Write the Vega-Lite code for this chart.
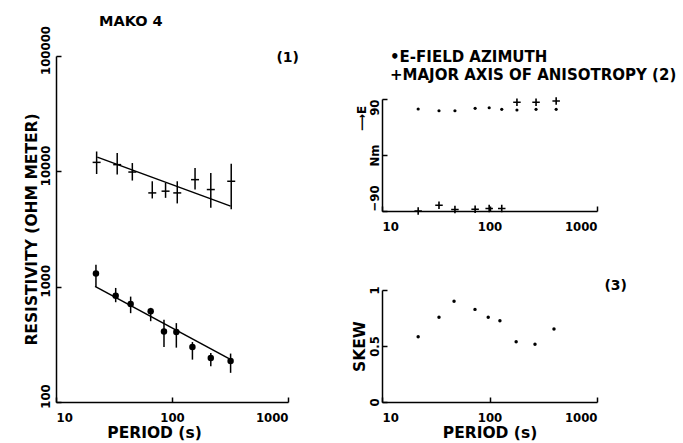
{
  "$schema": "https://vega.github.io/schema/vega-lite/v6.json",
  "background": "white",
  "padding": {"left": 24, "top": 14, "right": 5, "bottom": 5},
  "title": {"text": "MAKO 4", "anchor": "start", "frame": "group", "dx": 43, "offset": -4, "font": "DejaVu Sans, sans-serif", "fontSize": 14.5},
  "config": {
    "view": {"stroke": null},
    "font": "DejaVu Sans Condensed, Liberation Sans Narrow, DejaVu Sans, sans-serif",
    "axis": {
      "domainColor": "black", "domainWidth": 1.5, "tickColor": "black", "tickWidth": 1.5, "tickSize": -5,
      "grid": false, "labelColor": "black", "labelFont": "DejaVu Sans Condensed, Liberation Sans Narrow, DejaVu Sans, sans-serif",
      "labelFontSize": 13, "labelFontWeight": "bold", "titleColor": "black",
      "titleFont": "DejaVu Sans, sans-serif", "titleFontSize": 15.5, "titleFontWeight": "bold"
    },
    "title": {
      "color": "black", "font": "DejaVu Sans, sans-serif", "fontWeight": "bold", "fontSize": 14,
      "subtitleColor": "black", "subtitleFont": "DejaVu Sans, sans-serif", "subtitleFontSize": 15, "subtitleFontWeight": "bold"
    }
  },
  "datasets": {
    "rho": [
      {"period": 22.4, "rho": 11960, "lo": 9480, "hi": 14860, "mode": "cross"},
      {"period": 33.7, "rho": 11430, "lo": 9370, "hi": 14390, "mode": "cross"},
      {"period": 45.5, "rho": 9860, "lo": 8320, "hi": 11800, "mode": "cross"},
      {"period": 67.6, "rho": 6500, "lo": 5820, "hi": 8200, "mode": "cross"},
      {"period": 88, "rho": 6730, "lo": 5890, "hi": 7930, "mode": "cross"},
      {"period": 111, "rho": 6500, "lo": 5270, "hi": 8200, "mode": "cross"},
      {"period": 158, "rho": 8470, "lo": 6950, "hi": 10670, "mode": "cross"},
      {"period": 216, "rho": 6950, "lo": 4830, "hi": 9660, "mode": "cross"},
      {"period": 324, "rho": 8200, "lo": 4680, "hi": 11650, "mode": "cross"},
      {"period": 22.1, "rho": 1303, "lo": 1000, "hi": 1549, "mode": "dot"},
      {"period": 32.7, "rho": 836, "lo": 733, "hi": 975, "mode": "dot"},
      {"period": 44, "rho": 709, "lo": 589, "hi": 820, "mode": "dot"},
      {"period": 65.5, "rho": 613, "lo": 502, "hi": 655, "mode": "dot"},
      {"period": 85.3, "rho": 409, "lo": 300, "hi": 516, "mode": "dot"},
      {"period": 109, "rho": 404, "lo": 296, "hi": 483, "mode": "dot"},
      {"period": 150, "rho": 300, "lo": 233, "hi": 331, "mode": "dot"},
      {"period": 216, "rho": 241, "lo": 204, "hi": 266, "mode": "dot"},
      {"period": 320, "rho": 227, "lo": 179, "hi": 263, "mode": "dot"}
    ],
    "fit": [
      {"period": 22.7, "rho": 13280, "mode": "cross"},
      {"period": 320, "rho": 4990, "mode": "cross"},
      {"period": 21.7, "rho": 1006, "mode": "dot"},
      {"period": 310, "rho": 238, "mode": "dot"}
    ],
    "azi": [
      {"period": 21.7, "angle": 73.9, "kind": "efield"},
      {"period": 33.9, "angle": 71.1, "kind": "efield"},
      {"period": 47.7, "angle": 71.1, "kind": "efield"},
      {"period": 73.5, "angle": 75, "kind": "efield"},
      {"period": 99.3, "angle": 76, "kind": "efield"},
      {"period": 130, "angle": 73.4, "kind": "efield"},
      {"period": 180, "angle": 72.3, "kind": "efield"},
      {"period": 271, "angle": 73.4, "kind": "efield"},
      {"period": 417, "angle": 73.4, "kind": "efield"},
      {"period": 21.7, "angle": -90, "kind": "anis"},
      {"period": 33.9, "angle": -80.8, "kind": "anis"},
      {"period": 47.7, "angle": -87.7, "kind": "anis"},
      {"period": 73.5, "angle": -87.2, "kind": "anis"},
      {"period": 99.3, "angle": -86, "kind": "anis"},
      {"period": 130, "angle": -86, "kind": "anis"},
      {"period": 180, "angle": 84.7, "kind": "anis"},
      {"period": 271, "angle": 84.7, "kind": "anis"},
      {"period": 417, "angle": 86.8, "kind": "anis"}
    ],
    "skew": [
      {"period": 21.7, "skew": 0.582},
      {"period": 33.9, "skew": 0.756},
      {"period": 46.8, "skew": 0.899},
      {"period": 73.3, "skew": 0.827},
      {"period": 97.3, "skew": 0.756},
      {"period": 125, "skew": 0.725},
      {"period": 177, "skew": 0.537},
      {"period": 265, "skew": 0.516},
      {"period": 398, "skew": 0.651}
    ]
  },
  "bounds": "flush",
  "spacing": 94,
  "hconcat": [
    {
      "width": 232,
      "height": 346,
      "title": {"text": "(1)", "anchor": "end", "frame": "group", "dx": 11, "dy": 39, "offset": 0},
      "encoding": {
        "x": {"field": "period", "type": "quantitative", "scale": {"type": "log", "domain": [10, 1000], "nice": false},
          "axis": {"values": [10, 100, 1000], "format": "d", "labelAngle": 0, "labelPadding": 14, "title": "PERIOD (s)", "titlePadding": 1, "titleX": 98}},
        "y": {"field": "rho", "type": "quantitative", "scale": {"type": "log", "domain": [100, 100000], "nice": false},
          "title": "RESISTIVITY (OHM METER)",
          "axis": {"values": [100, 1000, 10000, 100000], "format": "d", "labelAngle": -90, "labelAlign": "center", "labelBaseline": "alphabetic", "labelPadding": 12, "labelOffset": -6, "titlePadding": 0}}
      },
      "layer": [
        {
          "data": {"name": "rho"},
          "mark": {"type": "rule", "color": "black", "strokeWidth": 1.5},
          "encoding": {
            "y": {"field": "lo", "type": "quantitative", "scale": {"type": "log", "domain": [100, 100000], "nice": false}, "title": "RESISTIVITY (OHM METER)"},
            "y2": {"field": "hi"}
          }
        },
        {
          "data": {"name": "rho"},
          "transform": [{"filter": "datum.mode == 'cross'"}],
          "mark": {"type": "tick", "orient": "horizontal", "color": "black", "size": 8, "thickness": 1.5, "opacity": 1}
        },
        {
          "data": {"name": "rho"},
          "transform": [{"filter": "datum.mode == 'dot'"}],
          "mark": {"type": "circle", "color": "black", "opacity": 1, "size": 42}
        },
        {
          "data": {"name": "fit"},
          "mark": {"type": "line", "color": "black", "strokeWidth": 1.5},
          "encoding": {"detail": {"field": "mode"}}
        }
      ]
    },
    {
      "bounds": "flush",
      "spacing": 0,
      "vconcat": [
        {"width": 215, "height": 43, "data": {"values": [{}]}, "mark": {"type": "text"}, "encoding": {"text": {"value": ""}}},
        {
          "width": 215,
          "height": 112,
          "title": {"text": "•E-FIELD AZIMUTH", "subtitle": "+MAJOR AXIS OF ANISOTROPY (2)", "anchor": "start", "frame": "group", "dx": 8, "offset": 11, "subtitlePadding": 3, "fontSize": 15},
          "data": {"name": "azi"},
          "encoding": {
            "x": {"field": "period", "type": "quantitative", "scale": {"type": "log", "domain": [10, 1000], "nice": false},
              "axis": {"values": [10, 100, 1000], "format": "d", "labelAngle": 0, "labelPadding": 14, "title": null}},
            "y": {"field": "angle", "type": "quantitative", "scale": {"domain": [-90, 90], "nice": false},
              "title": "⟶E",
              "axis": {"values": [-90, 0, 90], "labelExpr": "datum.value == 0 ? 'Nm' : datum.label", "labelAngle": -90,
                "labelAlign": {"condition": [{"test": "datum.value > 0", "value": "right"}, {"test": "datum.value < 0", "value": "left"}], "value": "center"},
                "labelBaseline": "alphabetic", "labelPadding": 9, "titleX": -14, "titleY": 19, "titleFontSize": 12}}
          },
          "layer": [
            {
              "transform": [{"filter": "datum.kind == 'efield'"}],
              "mark": {"type": "circle", "color": "black", "opacity": 1, "size": 10}
            },
            {
              "transform": [{"filter": "datum.kind == 'anis'"}],
              "mark": {"type": "point", "shape": "M-1,0H1M0,-1V1", "filled": false, "stroke": "black", "strokeWidth": 1.6, "opacity": 1, "size": 56}
            }
          ]
        },
        {"width": 215, "height": 79, "data": {"values": [{}]}, "mark": {"type": "text"}, "encoding": {"text": {"value": ""}}},
        {
          "width": 215,
          "height": 112,
          "title": {"text": "(3)", "anchor": "end", "frame": "group", "dx": 30, "dy": 7, "offset": 0},
          "data": {"name": "skew"},
          "mark": {"type": "circle", "color": "black", "opacity": 1, "size": 12},
          "encoding": {
            "x": {"field": "period", "type": "quantitative", "scale": {"type": "log", "domain": [10, 1000], "nice": false},
              "axis": {"values": [10, 100, 1000], "format": "d", "labelAngle": 0, "labelPadding": 14, "title": "PERIOD (s)", "titlePadding": 1}},
            "y": {"field": "skew", "type": "quantitative", "scale": {"domain": [0, 1], "nice": false},
              "title": "SKEW",
              "axis": {"values": [0, 0.5, 1], "format": "~g", "labelAngle": -90, "labelAlign": "center", "labelBaseline": "alphabetic", "labelPadding": 9, "titlePadding": 1}}
          }
        }
      ]
    }
  ]
}
